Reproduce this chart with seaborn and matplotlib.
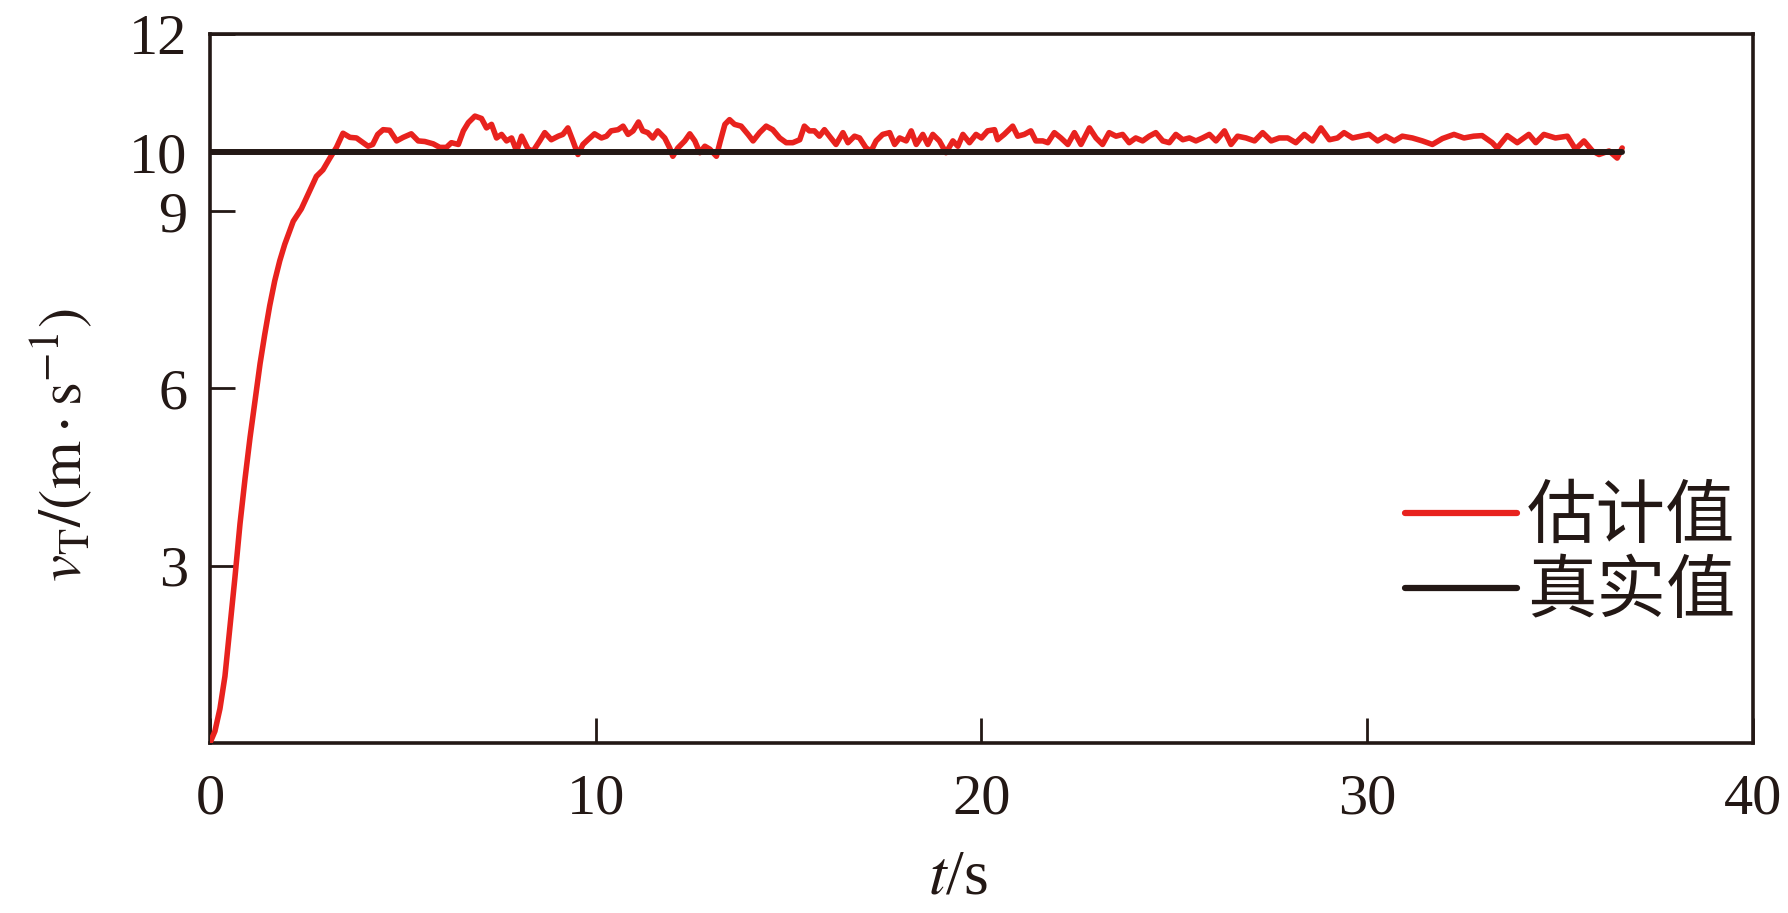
import numpy as np
import pandas as pd
import matplotlib
matplotlib.use("Agg")
import matplotlib.pyplot as plt
import seaborn as sns

# ---- data ----
t_est = [0.00, 0.13, 0.26, 0.39, 0.52, 0.65, 0.78, 0.91, 1.04, 1.17, 1.30, 1.42, 1.55, 1.68, 1.81, 1.94,
         2.16, 2.37, 2.54, 2.76, 2.93, 3.11, 3.28, 3.45,
         3.63, 3.80, 3.97, 4.10, 4.22, 4.35, 4.49, 4.66, 4.84, 5.01, 5.22, 5.40, 5.57, 5.79, 5.96, 6.13,
         6.26, 6.44, 6.57, 6.70, 6.87, 7.04, 7.17, 7.30, 7.43, 7.56, 7.69, 7.82, 7.95, 8.08, 8.25, 8.38,
         8.55, 8.68,
         8.85, 9.03, 9.15, 9.28, 9.41, 9.54, 9.67, 9.80, 9.97, 10.15, 10.28, 10.40, 10.58, 10.71, 10.84,
         10.97, 11.11, 11.22, 11.35, 11.48, 11.61, 11.79, 11.92, 12.00, 12.13, 12.31, 12.44, 12.57, 12.70,
         12.83, 12.96, 13.13, 13.22, 13.35, 13.47, 13.60, 13.77, 13.95, 14.08, 14.25,
         14.42, 14.59, 14.77, 14.94, 15.11, 15.29, 15.41, 15.54, 15.67, 15.80, 15.93, 16.06, 16.23, 16.41,
         16.54, 16.71, 16.84, 17.01, 17.14, 17.27, 17.44, 17.62, 17.75, 17.88, 18.05, 18.18, 18.31, 18.48,
         18.61, 18.74, 18.91, 19.08, 19.26, 19.39, 19.52, 19.69, 19.86,
         20.00, 20.16, 20.34, 20.42, 20.59, 20.81, 20.94, 21.11, 21.28, 21.41, 21.59, 21.72, 21.89, 22.06,
         22.24, 22.41, 22.58, 22.80, 22.97, 23.14, 23.31, 23.49, 23.66, 23.83, 24.00, 24.18, 24.35, 24.52,
         24.70, 24.87, 25.04, 25.22, 25.39,
         25.56, 25.73, 25.91, 26.08, 26.30, 26.47, 26.64, 26.86, 27.08, 27.29, 27.51, 27.72, 27.94, 28.15,
         28.37, 28.58, 28.80, 29.02, 29.23, 29.40, 29.62, 29.84, 30.05, 30.27, 30.48, 30.70, 30.91,
         31.17, 31.43, 31.69, 31.95, 32.25, 32.51, 32.76, 32.98, 33.24, 33.37, 33.63, 33.89, 34.19, 34.37,
         34.58, 34.88, 35.19, 35.40, 35.62, 35.84, 36.01, 36.27, 36.48, 36.61]

v_est = [0.00, 0.20, 0.58, 1.13, 1.97, 2.81, 3.71, 4.47, 5.17, 5.80, 6.42, 6.91, 7.40, 7.82, 8.16, 8.44,
         8.83, 9.04, 9.28, 9.59, 9.70, 9.90, 10.08, 10.32,
         10.25, 10.24, 10.16, 10.10, 10.13, 10.30, 10.38, 10.37, 10.19, 10.25, 10.31, 10.19, 10.18, 10.14,
         10.08, 10.08, 10.16, 10.13, 10.36, 10.50, 10.61, 10.57, 10.41, 10.47, 10.24, 10.30, 10.19, 10.24,
         10.02, 10.27, 10.05, 10.02, 10.19, 10.33,
         10.21, 10.27, 10.30, 10.41, 10.19, 9.96, 10.13, 10.21, 10.31, 10.24, 10.27, 10.36, 10.38, 10.44,
         10.30, 10.36, 10.51, 10.36, 10.33, 10.24, 10.36, 10.24, 10.07, 9.93, 10.07, 10.19, 10.31, 10.19,
         9.99, 10.10, 10.05, 9.93, 10.16, 10.47, 10.55, 10.47, 10.44, 10.30, 10.19, 10.33,
         10.44, 10.38, 10.24, 10.16, 10.16, 10.21, 10.44, 10.36, 10.36, 10.27, 10.38, 10.27, 10.13, 10.33,
         10.16, 10.27, 10.24, 10.07, 10.02, 10.19, 10.30, 10.33, 10.13, 10.24, 10.19, 10.36, 10.13, 10.30,
         10.13, 10.30, 10.19, 9.99, 10.19, 10.10, 10.30, 10.16, 10.30,
         10.24, 10.36, 10.38, 10.21, 10.30, 10.44, 10.27, 10.30, 10.36, 10.19, 10.19, 10.16, 10.33, 10.24,
         10.13, 10.33, 10.13, 10.41, 10.24, 10.13, 10.33, 10.27, 10.30, 10.16, 10.24, 10.19, 10.27, 10.33,
         10.19, 10.16, 10.30, 10.21, 10.24,
         10.19, 10.24, 10.30, 10.19, 10.36, 10.13, 10.27, 10.24, 10.19, 10.33, 10.19, 10.24, 10.24, 10.16,
         10.30, 10.19, 10.41, 10.21, 10.24, 10.33, 10.24, 10.27, 10.30, 10.19, 10.27, 10.19, 10.27,
         10.24, 10.19, 10.13, 10.23, 10.30, 10.24, 10.27, 10.28, 10.16, 10.07, 10.28, 10.16, 10.30, 10.16,
         10.30, 10.24, 10.27, 10.05, 10.19, 10.02, 9.96, 10.02, 9.90, 10.07]

t_true = [0.0, 36.6]
v_true = [10.0, 10.0]

x_ticks = [0, 10, 20, 30, 40]
y_ticks = [3, 6, 9, 10, 12]
labels = ["估计值", "真实值"]

RED = "#E8221E"
BLACK = "#231815"

sns.set_theme(style="ticks")
plt.rcParams["font.family"] = ["Liberation Serif", "Noto Sans CJK SC"]
plt.rcParams["mathtext.fontset"] = "stix"
plt.rcParams["axes.unicode_minus"] = False

df_est = pd.DataFrame({"t": t_est, "v": v_est})
df_true = pd.DataFrame({"t": t_true, "v": v_true})

fig = plt.figure(figsize=(17.88, 9.13), dpi=100)
ax = fig.add_axes([0.1174, 0.1862, 0.8630, 0.7766])

sns.lineplot(data=df_est, x="t", y="v", ax=ax, color=RED, lw=4.0, label=labels[0],
             sort=False, estimator=None, zorder=3)
sns.lineplot(data=df_true, x="t", y="v", ax=ax, color=BLACK, lw=4.3, label=labels[1],
             sort=False, estimator=None, zorder=4)

ax.set_xlim(0, 40)
ax.set_ylim(0, 12)
ax.set_xticks(x_ticks)
ax.set_yticks(y_ticks)
ax.set_xticklabels([str(v) for v in x_ticks])
ax.set_yticklabels([str(v) for v in y_ticks])

for s in ax.spines.values():
    s.set_color(BLACK)
    s.set_linewidth(2.6)
    s.set_visible(True)

ax.tick_params(axis="both", direction="in", length=18, width=2.0, colors=BLACK,
               labelsize=42, labelcolor=BLACK)
ax.tick_params(axis="y", pad=16)
ax.tick_params(axis="x", pad=22)

ax.set_xlabel(r"$t$/s", fontsize=46, color=BLACK)
ax.xaxis.set_label_coords(0.485, -0.150)
ax.set_ylabel(r"$v_{\mathrm{T}}/(\mathrm{m \cdot s^{-1}})$", fontsize=44, color=BLACK)
ax.yaxis.set_label_coords(-0.075, 0.42)

leg = ax.legend(loc="center left", bbox_to_anchor=(0.7745, 0.262), frameon=False,
                fontsize=50, handlelength=1.61, handletextpad=0.15, labelspacing=0.15,
                borderpad=0, borderaxespad=0)
for txt in leg.get_texts():
    txt.set_color(BLACK)
for h in leg.get_lines():
    h.set_linewidth(4.5)

ax.grid(False)
fig.savefig("out.png", dpi=100, facecolor="white")
